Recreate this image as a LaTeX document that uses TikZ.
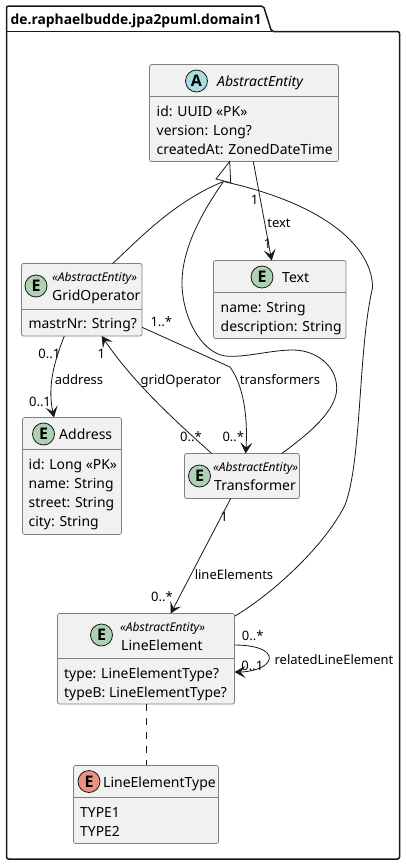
\documentclass[tikz,border=0pt]{standalone}
\usepackage{fontspec}
\setmainfont{Noto Sans}
\newfontfamily\headfont{Open Sans}
\usetikzlibrary{arrows.meta}
\definecolor{boxfill}{HTML}{F1F1F1}
\definecolor{boxline}{HTML}{808080}
\definecolor{inkline}{HTML}{181818}
\definecolor{spotentity}{HTML}{ADD1B2}
\definecolor{spotabstract}{HTML}{A9DCDF}
\definecolor{spotenum}{HTML}{EB937F}
\begin{document}
\begin{tikzpicture}[x=1pt, y=-1pt]
  \tikzset{
    entitybox/.style={rectangle, rounded corners=2pt, draw=boxline, fill=boxfill, line width=0.7pt, inner sep=0pt},
    spot/.style={circle, draw=inkline, line width=0.8pt, inner sep=0pt, minimum size=22pt, font=\headfont\bfseries\fontsize{16}{16}\selectfont},
    titletext/.style={anchor=base west, inner sep=0pt, font=\fontsize{14}{14}\selectfont},
    stereotext/.style={anchor=base west, inner sep=0pt, font=\fontsize{12}{12}\selectfont\itshape},
    attrtext/.style={anchor=base west, inner sep=0pt, font=\fontsize{13.9}{14}\selectfont},
    linklabel/.style={anchor=base, inner sep=0pt, text=black, font=\fontsize{13}{13}\selectfont},
    divider/.style={draw=boxline, line width=0.7pt},
    myarrow/.style={-{Stealth[length=11pt, width=12pt, inset=5pt]}, draw=inkline, line width=0.8pt},
    myline/.style={draw=inkline, line width=0.8pt}
  }
  \useasboundingbox (0,0) rectangle (406,865);

  % package frame
  \draw[inkline, line width=1.5pt, rounded corners=2pt, fill=white] (6.5,31.5) -- (6.5,6) -- (263.5,6) -- (271.5,31.5) -- (399.5,31.5) -- (399.5,859) -- (6.5,859) -- cycle;
  \draw[inkline, line width=1.5pt] (6.5,31.5) -- (271.5,31.5);
  \node[anchor=base west, inner sep=0pt, font=\headfont\bfseries\fontsize{13.85}{14}\selectfont] (pkg-title) at (10.5,24) {de.raphaelbudde.jpa2puml.domain1};

  % entities
  \node[entitybox, minimum width=189pt, minimum height=97pt] (abstract-entity) at (244,113) {};
  \draw[divider] (149.5,96.5) -- (338.5,96.5);
  \node[spot, fill=spotabstract] (abstract-spot) at (196.5,81) {A};
  \node[titletext, font=\fontsize{14}{14}\selectfont\itshape] (abstract-title) at (217,86) {AbstractEntity};
  \node[attrtext] (abstract-id) at (156.5,116) {id: UUID «PK»};
  \node[attrtext] (abstract-version) at (156.5,135) {version: Long?};
  \node[attrtext] (abstract-created) at (156.5,154) {createdAt: ZonedDateTime};

  \node[entitybox, minimum width=132.5pt, minimum height=78pt] (text) at (279.75,299.5) {};
  \draw[divider] (213.5,292.5) -- (346,292.5);
  \node[spot, fill=spotentity] (text-spot) at (262,277) {E};
  \node[titletext] (text-title) at (282,282) {Text};
  \node[attrtext] (text-name) at (220.5,312) {name: String};
  \node[attrtext] (text-desc) at (220.5,331) {description: String};

  \node[entitybox, minimum width=120.5pt, minimum height=72.5pt] (grid-operator) at (81.75,299.75) {};
  \draw[divider] (21.5,309.5) -- (142,309.5);
  \node[spot, fill=spotentity] (grid-spot) at (36,286) {E};
  \node[stereotext] (grid-stereo) at (52,281) {«AbstractEntity»};
  \node[titletext] (grid-title) at (52,300) {GridOperator};
  \node[attrtext] (grid-mastr) at (28.5,328) {mastrNr: String?};

  \node[entitybox, minimum width=99pt, minimum height=117pt] (address) at (72,476) {};
  \draw[divider] (22.5,449.5) -- (121.5,449.5);
  \node[spot, fill=spotentity] (address-spot) at (43.5,434) {E};
  \node[titletext] (address-title) at (59,439.5) {Address};
  \node[attrtext] (address-id) at (28.5,469.5) {id: Long «PK»};
  \node[attrtext] (address-name) at (28.5,488) {name: String};
  \node[attrtext] (address-street) at (28.5,507) {street: String};
  \node[attrtext] (address-city) at (28.5,526) {city: String};

  \node[entitybox, minimum width=115pt, minimum height=45pt] (transformer) at (242,476) {};
  \node[spot, fill=spotentity] (transformer-spot) at (199.5,476) {E};
  \node[stereotext] (transformer-stereo) at (213,471) {«AbstractEntity»};
  \node[titletext] (transformer-title) at (214,490) {Transformer};

  \node[entitybox, minimum width=177pt, minimum height=90.5pt] (line-element) at (146,658.75) {};
  \draw[divider] (57.5,658.5) -- (234.5,658.5);
  \node[spot, fill=spotentity] (line-spot) at (101.5,635) {E};
  \node[stereotext] (line-stereo) at (120,631) {«AbstractEntity»};
  \node[titletext] (line-title) at (121,650) {LineElement};
  \node[attrtext] (line-type) at (64,678) {type: LineElementType?};
  \node[attrtext] (line-typeb) at (64,697) {typeB: LineElementType?};

  \node[entitybox, minimum width=145pt, minimum height=78pt] (line-element-type) at (146,804.5) {};
  \draw[divider] (73.5,797.5) -- (218.5,797.5);
  \node[spot, fill=spotenum] (type-spot) at (89,781.5) {E};
  \node[titletext] (type-title) at (103,787.5) {LineElementType};
  \node[attrtext] (type-one) at (80,817.5) {TYPE1};
  \node[attrtext] (type-two) at (80,836.5) {TYPE2};

  % free ends
  \coordinate (inherit-tip) at (229.7,161.5);
  \coordinate (inherit-base) at (223.5,181.5);
  \coordinate (grid-up) at (112.7,263.5);
  \coordinate (trans-up) at (281.7,453.5);
  \coordinate (line-up) at (235,616);
  \coordinate (abstract-text) at (253.3,161.5);
  \coordinate (text-top) at (271.7,260.5);
  \coordinate (grid-addr) at (64.3,336);
  \coordinate (address-top) at (54,417.5);
  \coordinate (trans-grid) at (211.7,453.5);
  \coordinate (grid-bottom) at (101.7,336);
  \coordinate (grid-right) at (142,327.3);
  \coordinate (trans-top) at (245.7,453.5);
  \coordinate (trans-bottom) at (230.7,498.5);
  \coordinate (line-top) at (170.7,613.5);
  \coordinate (line-loop-out) at (234.5,645);
  \coordinate (line-loop-in) at (234.5,672);

  % connectors
  \draw[myline] (grid-up) .. controls (140,238) and (175,201) .. (inherit-base);
  \draw[myline] (trans-up) .. controls (310,433) and (336.7,410) .. (336.7,388.3)
    .. controls (336.7,365) and (315,350) .. (293,350)
    .. controls (270,350) and (245,358) .. (225,356)
    .. controls (200,352) and (182,315) .. (182,283)
    .. controls (182,250) and (200,215) .. (inherit-base);
  \draw[myline] (line-up) .. controls (275,592) and (325,545) .. (345,505)
    .. controls (362,460) and (358,350) .. (372.5,288)
    .. controls (373,250) and (330,205) .. (inherit-base);
  \draw[myline, fill=white] (inherit-tip) -- (216,179) -- (230.7,182.7) -- cycle;
  \draw[myarrow] (abstract-text) -- (text-top);
  \draw[myarrow] (grid-addr) .. controls (55,360) and (47,385) .. (address-top);
  \draw[myarrow] (trans-grid) .. controls (180,425) and (135,385) .. (grid-bottom);
  \draw[myarrow] (grid-right) -- (230,367) .. controls (243,385) and (248,415) .. (trans-top);
  \draw[myarrow] (trans-bottom) -- (line-top);
  \draw[myarrow] (line-loop-out) .. controls (255,645) and (270,650) .. (269.3,658.5) .. controls (268,668) and (250,672) .. (line-loop-in);
  \draw[myline, dashed, dash pattern=on 7pt off 7pt] (line-element.south) -- (line-element-type.north);

  % labels
  \node[linklabel] (lbl-text-one) at (254.5,204) {1};
  \node[linklabel] (lbl-text) at (279,227) {text};
  \node[linklabel] (lbl-text-two) at (267.5,248) {1};
  \node[linklabel] (lbl-addr-from) at (49.3,358) {0..1};
  \node[linklabel] (lbl-address) at (79,384) {address};
  \node[linklabel] (lbl-addr-to) at (40,406) {0..1};
  \node[linklabel] (lbl-grid-one) at (101.3,358) {1};
  \node[linklabel] (lbl-trans-from) at (161.3,326.5) {1..*};
  \node[linklabel] (lbl-grid-op) at (181,384) {gridOperator};
  \node[linklabel] (lbl-transformers) at (280,384) {transformers};
  \node[linklabel] (lbl-grid-many) at (191,441) {0..*};
  \node[linklabel] (lbl-trans-to) at (233.3,441) {0..*};
  \node[linklabel] (lbl-line-one) at (224,521) {1};
  \node[linklabel] (lbl-line-elements) at (234,579) {lineElements};
  \node[linklabel] (lbl-line-many) at (162,601) {0..*};
  \node[linklabel] (lbl-loop-from) at (252.7,640) {0..*};
  \node[linklabel] (lbl-loop-to) at (252.3,670) {0..1};
  \node[linklabel] (lbl-related) at (334,664) {relatedLineElement};
\end{tikzpicture}
\end{document}
